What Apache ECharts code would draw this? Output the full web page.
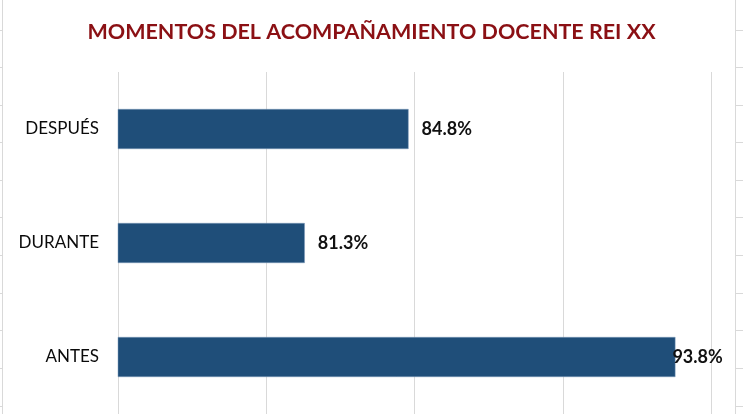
<!DOCTYPE html>
<html>
<head>
<meta charset="utf-8">
<script src="https://cdn.jsdelivr.net/npm/echarts@6/dist/echarts.min.js"></script>
<style>
  html, body { margin: 0; padding: 0; background: #fff; }
  #chart { width: 743px; height: 414px; }
</style>
</head>
<body>
<div id="chart"></div>
<script>
const categories = ["ANTES", "DURANTE", "DESPUÉS"];
const values = [93.8, 81.3, 84.8];
const axisMin = 75;
const axisMax = 95;
const axisStep = 5;

const chart = echarts.init(document.getElementById("chart"));

// spreadsheet cell borders behind the chart (decoration only)
const cellLines = [];
cellLines.push({ type: "line", shape: { x1: 2.5, y1: 0, x2: 2.5, y2: 414 }, style: { stroke: "#d9d9d9", lineWidth: 1 } });
cellLines.push({ type: "line", shape: { x1: 735.5, y1: 0, x2: 735.5, y2: 414 }, style: { stroke: "#d9d9d9", lineWidth: 1 } });
for (let y = 29.5; y < 414; y += 37.6) {
  const yy = Math.round(y) + 0.5;
  cellLines.push({ type: "line", shape: { x1: 0, y1: yy, x2: 3, y2: yy }, style: { stroke: "#d9d9d9", lineWidth: 1 } });
  cellLines.push({ type: "line", shape: { x1: 735, y1: yy, x2: 743, y2: yy }, style: { stroke: "#d9d9d9", lineWidth: 1 } });
}

chart.setOption({
  backgroundColor: "#fff",
  animation: false,
  title: {
    text: "MOMENTOS DEL ACOMPAÑAMIENTO DOCENTE REI XX",
    left: "center",
    top: 16,
    textStyle: {
      fontFamily: "Lato",
      fontWeight: "bold",
      fontSize: 21.5,
      color: "#8b1014",
    },
  },
  graphic: cellLines,
  grid: {
    left: 118,
    right: 32,
    top: 72,
    bottom: 0,
  },
  xAxis: {
    type: "value",
    min: axisMin,
    max: axisMax,
    interval: axisStep,
    axisLabel: { show: false },
    axisLine: { show: false },
    axisTick: { show: false },
    splitLine: { lineStyle: { color: "#d9d9d9", width: 1 } },
  },
  yAxis: {
    type: "category",
    data: categories,
    axisLine: { show: false },
    axisTick: { show: false },
    axisLabel: {
      margin: 19,
      fontFamily: "Lato",
      fontSize: 17,
      color: "#0a0a0a",
    },
  },
  series: [
    {
      type: "bar",
      barWidth: 40,
      itemStyle: {
        color: "#1f4e79",
        borderColor: "#7f9cbc",
        borderWidth: 0.5,
      },
      label: {
        show: true,
        position: "right",
        distance: 13,
        fontFamily: "Lato",
        fontWeight: "bold",
        fontSize: 18,
        color: "#111",
        formatter: (p) => p.value.toFixed(1) + "%",
      },
      data: values.map((v, i) =>
        i === 0 ? { value: v, label: { distance: -3 } } : v
      ),
    },
  ],
});
</script>
</body>
</html>
